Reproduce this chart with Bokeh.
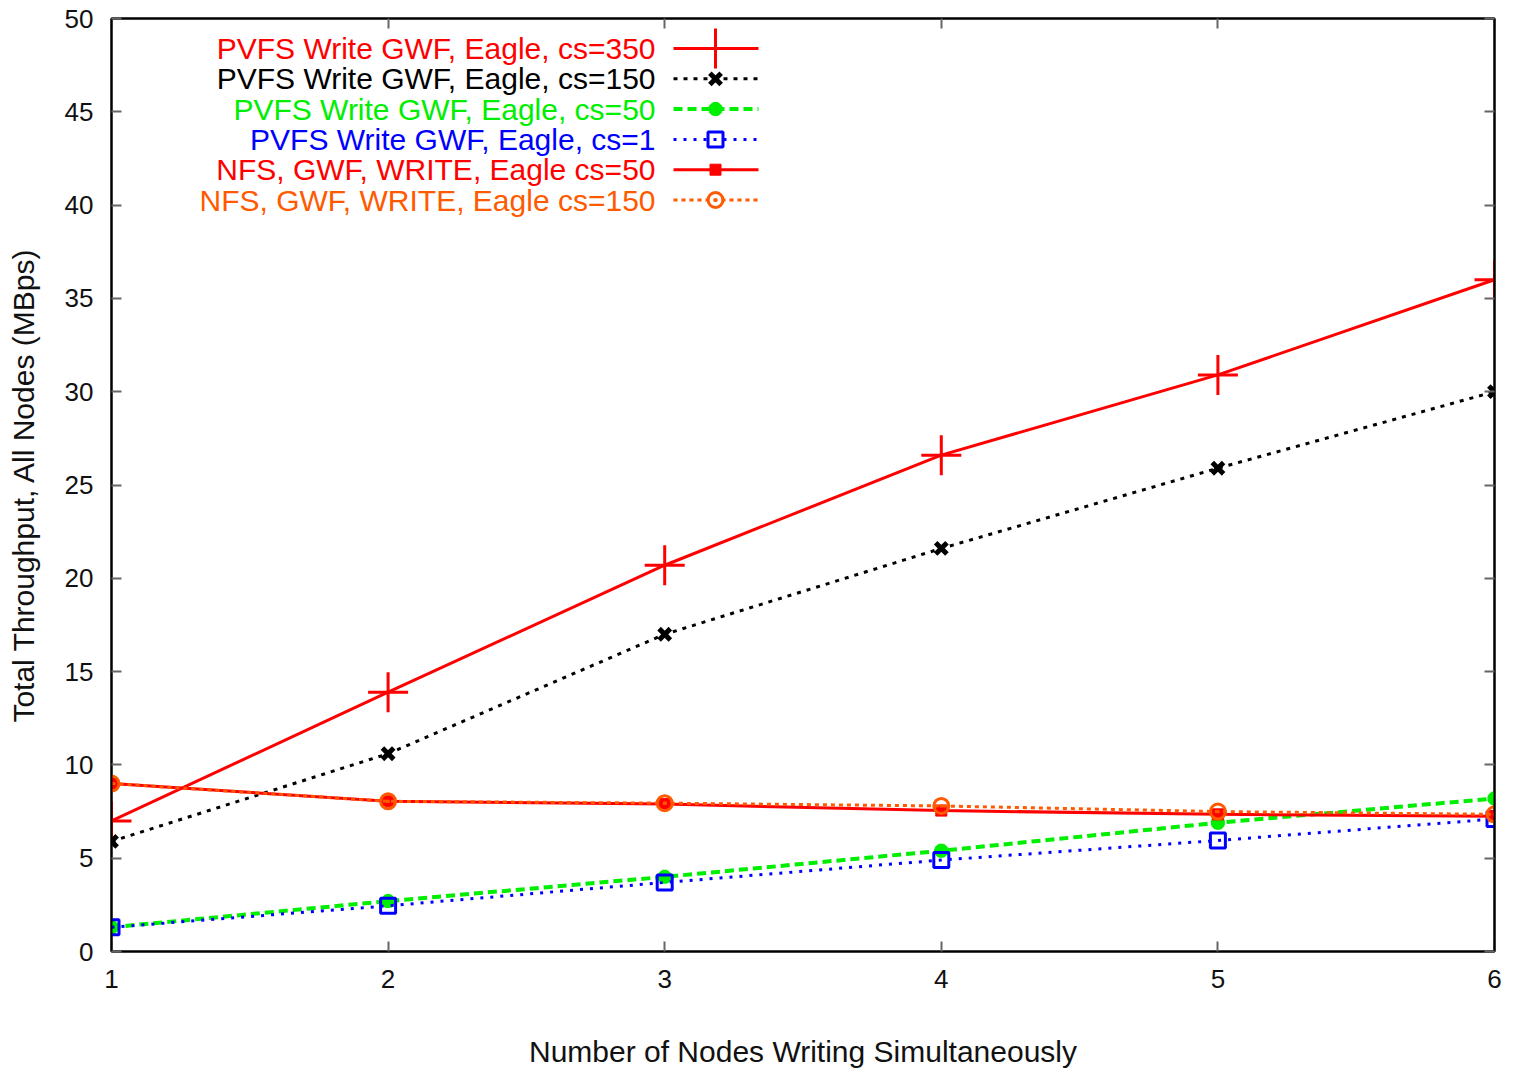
from bokeh.plotting import figure
from bokeh.models import LinearAxis, FixedTicker, Range1d, Label
from bokeh.embed import file_html
from bokeh.resources import INLINE

# ---- data ----
nodes = [1, 2, 3, 4, 5, 6]
pvfs_cs350 = [7.0, 13.9, 20.7, 26.6, 30.9, 36.0]
pvfs_cs150 = [5.9, 10.6, 17.0, 21.6, 25.9, 30.0]
pvfs_cs50 = [1.3, 2.7, 4.0, 5.4, 6.9, 8.2]
pvfs_cs1 = [1.3, 2.45, 3.7, 4.9, 5.95, 7.1]
nfs_cs50 = [9.0, 8.05, 7.9, 7.55, 7.35, 7.25]
nfs_cs150 = [9.0, 8.05, 7.95, 7.8, 7.5, 7.35]

labels = [
    "PVFS Write GWF, Eagle, cs=350",
    "PVFS Write GWF, Eagle, cs=150",
    "PVFS Write GWF, Eagle, cs=50",
    "PVFS Write GWF, Eagle, cs=1",
    "NFS, GWF, WRITE, Eagle cs=50",
    "NFS, GWF, WRITE, Eagle cs=150",
]
x_ticks = [1, 2, 3, 4, 5, 6]
y_ticks = [0, 5, 10, 15, 20, 25, 30, 35, 40, 45, 50]

FONT = "Liberation Sans"
FW, FH = 1383, 933
X0, X1, Y0, Y1 = 1, 6, 0, 50

p = figure(
    frame_width=FW, frame_height=FH,
    x_range=Range1d(X0, X1), y_range=Range1d(Y0, Y1),
    output_backend="svg", toolbar_location=None,
    min_border_left=111, min_border_top=18, min_border_right=27, min_border_bottom=100,
    background_fill_color="white", border_fill_color="white",
)
p.xgrid.visible = False
p.ygrid.visible = False
p.outline_line_color = "black"
p.outline_line_width = 2

def style_axis(ax, show_labels=True):
    ax.axis_line_color = "black"
    ax.axis_line_width = 2
    ax.major_tick_in = 10
    ax.major_tick_out = 0
    ax.major_tick_line_color = "#666666"
    ax.major_tick_line_width = 2
    ax.minor_tick_line_color = None
    ax.major_label_text_font = FONT
    ax.major_label_text_font_size = "26px"
    ax.major_label_text_color = "#111111"
    ax.axis_label_text_font = FONT
    ax.axis_label_text_font_size = "30px"
    ax.axis_label_text_font_style = "normal"
    ax.axis_label_text_color = "#111111"
    if not show_labels:
        ax.major_label_overrides = {t: "" for t in ax.ticker.ticks}
        ax.major_label_standoff = 0

xa = p.xaxis[0]
xa.ticker = FixedTicker(ticks=x_ticks)
style_axis(xa)
xa.major_label_standoff = 18
xa.axis_label = "Number of Nodes Writing Simultaneously"
xa.axis_label_standoff = 44

ya = p.yaxis[0]
ya.ticker = FixedTicker(ticks=y_ticks)
style_axis(ya)
ya.major_label_standoff = 18
ya.axis_label = "Total Throughput, All Nodes (MBps)"
ya.axis_label_standoff = 22

ra = LinearAxis(ticker=FixedTicker(ticks=y_ticks))
style_axis(ra, False)
p.add_layout(ra, "right")
ta = LinearAxis(ticker=FixedTicker(ticks=x_ticks))
style_axis(ta, False)
p.add_layout(ta, "above")

RED = "#ff0000"
BLACK = "#000000"
GREEN = "#00ee00"
BLUE = "#0000ff"
ORANGE = "#ff5a00"

series = [
    (pvfs_cs350, RED, "solid", 3, "cross", 40, 3, None),
    (pvfs_cs150, BLACK, "4 6", 3, "x", 16, 5, None),
    (pvfs_cs50, GREEN, "9 5", 4, "asterisk", 14, 5, None),
    (pvfs_cs1, BLUE, "3 7", 3, "square", 15, 3, None),
    (nfs_cs50, RED, "solid", 3, "square", 11, 1, RED),
    (nfs_cs150, ORANGE, "4 4", 3, "circle_dot", 15, 3, None),
]

for ys, col, dash, lw, mk, ms, mlw, fill in series:
    p.line(nodes, ys, line_color=col, line_dash=dash, line_width=lw)
    p.scatter(nodes, ys, marker=mk, size=ms, line_color=col, line_width=mlw,
              fill_color=fill if fill else None)

# ---- legend (gnuplot style: right-aligned text, sample to the right) ----
def dx(px):  # pixel offset from frame left -> data
    return X0 + px / FW * (X1 - X0)

def dy(py):  # pixel offset from frame top -> data
    return Y1 - py / FH * (Y1 - Y0)

text_right = dx(544)
s0, s1, sm = dx(562), dx(647), dx(604)
for i, (lab, (ys, col, dash, lw, mk, ms, mlw, fill)) in enumerate(zip(labels, series)):
    yy = dy(30 + 30.3 * i)
    p.add_layout(Label(x=text_right, y=yy, text=lab, text_align="right",
                       text_baseline="middle", text_color=col,
                       text_font=FONT, text_font_size="30px"))
    p.line([s0, s1], [yy, yy], line_color=col, line_dash=dash, line_width=lw)
    p.scatter([sm], [yy], marker=mk, size=ms, line_color=col, line_width=mlw,
              fill_color=fill if fill else None)

open("out.html", "w").write(file_html(p, INLINE))
